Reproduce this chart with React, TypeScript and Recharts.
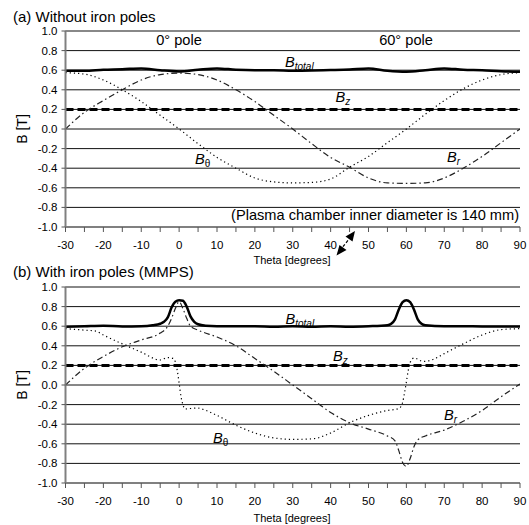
import React from 'react';
import { LineChart, Line, XAxis, YAxis, CartesianGrid, ReferenceLine } from 'recharts';

const FONT = '"Liberation Sans", Arial, sans-serif';

// Axis ticks
const thetaTicks = [-30, -25, -20, -15, -10, -5, 0, 5, 10, 15, 20, 25, 30, 35, 40, 45, 50, 55, 60, 65, 70, 75, 80, 85, 90];
const bTicks = [-1, -0.8, -0.6, -0.4, -0.2, 0, 0.2, 0.4, 0.6, 0.8, 1];

// ---------- Panel (a): without iron poles ----------
const thetaA = [-30, -25, -20, -15, -10, -5, 0, 5, 10, 15, 20, 25, 30, 35, 40, 45, 50, 55, 60, 65, 70, 75, 80, 85, 90];
const bTotalA = [0.595, 0.595, 0.605, 0.61, 0.618, 0.6, 0.588, 0.605, 0.618, 0.605, 0.6, 0.6, 0.595, 0.597, 0.602, 0.608, 0.618, 0.595, 0.585, 0.6, 0.618, 0.605, 0.6, 0.59, 0.585];
const bThetaA = [0.575, 0.56, 0.5, 0.4, 0.28, 0.14, 0.0, -0.15, -0.29, -0.4, -0.5, -0.54, -0.55, -0.545, -0.51, -0.39, -0.28, -0.14, 0.0, 0.15, 0.29, 0.41, 0.5, 0.555, 0.575];
const bRA = [0.0, 0.17, 0.29, 0.4, 0.5, 0.555, 0.57, 0.555, 0.5, 0.4, 0.28, 0.14, 0.0, -0.15, -0.29, -0.39, -0.5, -0.55, -0.555, -0.55, -0.5, -0.4, -0.28, -0.14, 0.0];
const thetaZ = [-30, 90];
const bZA = [0.2, 0.2];

// ---------- Panel (b): with iron poles (MMPS) ----------
const thetaTotalB = [-30, -25, -20, -15, -10, -7, -5, -4, -3, -2, -1, 0, 1, 2, 3, 4, 5, 7, 10, 15, 20, 25, 30, 35, 40, 45, 50, 55, 56, 57, 58, 59, 60, 61, 62, 63, 64, 65, 70, 75, 80, 85, 90];
const bTotalB = [0.595, 0.6, 0.605, 0.597, 0.6, 0.61, 0.625, 0.645, 0.69, 0.79, 0.85, 0.865, 0.86, 0.8, 0.7, 0.645, 0.62, 0.605, 0.6, 0.6, 0.6, 0.595, 0.6, 0.595, 0.6, 0.595, 0.6, 0.61, 0.625, 0.67, 0.77, 0.845, 0.865, 0.845, 0.77, 0.67, 0.625, 0.61, 0.6, 0.6, 0.597, 0.597, 0.597];
const thetaRB = [-30, -25, -20, -15, -10, -5, -3, -2, -1, 0, 1, 2, 3, 5, 10, 15, 20, 25, 30, 35, 40, 45, 50, 55, 57, 58, 59, 60, 61, 62, 63, 65, 70, 75, 80, 85, 90];
const bRB = [0.0, 0.17, 0.29, 0.39, 0.46, 0.53, 0.6, 0.68, 0.78, 0.85, 0.78, 0.68, 0.6, 0.56, 0.49, 0.4, 0.27, 0.14, 0.0, -0.14, -0.28, -0.385, -0.45, -0.52, -0.57, -0.67, -0.79, -0.83, -0.75, -0.63, -0.56, -0.52, -0.46, -0.37, -0.26, -0.12, 0.01];
const thetaThB = [-30, -25, -22, -20, -15, -10, -5, -3, -1.5, -0.5, 0, 0.5, 1, 1.5, 3, 5, 6, 10, 15, 20, 25, 30, 35, 40, 45, 50, 55, 58, 59, 59.5, 60, 60.5, 61, 62, 64.5, 67, 70, 75, 80, 85, 90];
const bThB = [0.575, 0.56, 0.55, 0.51, 0.42, 0.335, 0.255, 0.28, 0.27, 0.15, 0.02, -0.12, -0.2, -0.245, -0.24, -0.235, -0.245, -0.31, -0.41, -0.49, -0.54, -0.555, -0.55, -0.49, -0.385, -0.31, -0.26, -0.24, -0.18, -0.08, 0.03, 0.15, 0.23, 0.275, 0.24, 0.26, 0.32, 0.42, 0.51, 0.565, 0.575];
const bZB = [0.2, 0.2];

const zip = (xs: number[], ys: number[]) => xs.map((x, i) => ({ theta: x, b: ys[i] }));

type Series = { total: any[]; theta: any[]; r: any[]; z: any[] };

const seriesA: Series = {
  total: zip(thetaA, bTotalA),
  theta: zip(thetaA, bThetaA),
  r: zip(thetaA, bRA),
  z: zip(thetaZ, bZA),
};
const seriesB: Series = {
  total: zip(thetaTotalB, bTotalB),
  theta: zip(thetaThB, bThB),
  r: zip(thetaRB, bRB),
  z: zip(thetaZ, bZB),
};

const tickStyle = { fill: '#000', fontSize: 11.5, fontFamily: FONT };

function Panel({ s }: { s: Series }) {
  return (
    <LineChart width={529} height={260} margin={{ top: 31, right: 9, bottom: 0, left: 0 }}>
      <CartesianGrid horizontal vertical={false} stroke="#111" strokeWidth={1} />
      <XAxis
        dataKey="theta"
        type="number"
        domain={[-30, 90]}
        ticks={thetaTicks}
        interval={0}
        allowDataOverflow
        tickFormatter={(v: number) => (v % 10 === 0 ? String(v) : '')}
        height={33}
        tickSize={5}
        tickMargin={8.5}
        axisLine={{ stroke: '#808080', strokeWidth: 2 }}
        tickLine={{ stroke: '#555', strokeWidth: 1 }}
        tick={tickStyle}
      />
      <YAxis
        type="number"
        domain={[-1, 1]}
        ticks={bTicks}
        interval={0}
        allowDataOverflow
        tickFormatter={(v: number) => v.toFixed(1)}
        width={65.5}
        tickSize={4}
        tickMargin={4}
        axisLine={{ stroke: '#808080', strokeWidth: 2 }}
        tickLine={{ stroke: '#555', strokeWidth: 1 }}
        tick={tickStyle}
      />
      <ReferenceLine y={1} stroke="#888" strokeWidth={2} />
      <Line data={s.z} dataKey="b" type="linear" stroke="#000" strokeWidth={3} strokeDasharray="8 4" dot={false} isAnimationActive={false} />
      <Line data={s.theta} dataKey="b" type="monotone" stroke="#000" strokeWidth={1.2} strokeDasharray="1.2 3" dot={false} isAnimationActive={false} />
      <Line data={s.r} dataKey="b" type="monotone" stroke="#222" strokeWidth={1.2} strokeDasharray="6 3 1.5 3" dot={false} isAnimationActive={false} />
      <Line data={s.total} dataKey="b" type="monotone" stroke="#000" strokeWidth={2.5} dot={false} isAnimationActive={false} />
    </LineChart>
  );
}

function BLabel({ x, y, sub, italicSub = true }: { x: number; y: number; sub: string; italicSub?: boolean }) {
  return (
    <text x={x} y={y} fontFamily={FONT} fontSize={14.6} fill="#000">
      <tspan fontStyle="italic">B</tspan>
      <tspan fontSize={10} dy={3} fontStyle={italicSub ? 'italic' : 'normal'}>{sub}</tspan>
    </text>
  );
}

export default function App() {
  return (
    <div style={{ position: 'absolute', left: 0, top: 0, width: 529, height: 525, background: '#fff', overflow: 'hidden' }}>
      <div style={{ position: 'absolute', left: 0, top: 0 }}>
        <Panel s={seriesA} />
      </div>
      <div style={{ position: 'absolute', left: 0, top: 256 }}>
        <Panel s={seriesB} />
      </div>
      <svg width={529} height={525} style={{ position: 'absolute', left: 0, top: 0, pointerEvents: 'none' }}>
        <g fontFamily={FONT} fill="#000">
          <text x={13} y={21.5} fontSize={15}>(a) Without iron poles</text>
          <text x={13} y={277} fontSize={15}>(b) With iron poles (MMPS)</text>
          <text x={179} y={45} fontSize={14.6} textAnchor="middle">0° pole</text>
          <text x={406} y={45} fontSize={14.6} textAnchor="middle">60° pole</text>
          <text x={519} y={220} fontSize={14.6} textAnchor="end">(Plasma chamber inner diameter is 140 mm)</text>
          <text x={292} y={263.5} fontSize={11} textAnchor="middle">Theta [degrees]</text>
          <text x={292} y={522} fontSize={11} textAnchor="middle">Theta [degrees]</text>
          <text x={27} y={129} fontSize={14} textAnchor="middle" transform="rotate(-90 27 129)">B [T]</text>
          <text x={27} y={385} fontSize={14} textAnchor="middle" transform="rotate(-90 27 385)">B [T]</text>
        </g>
        <BLabel x={285} y={66.5} sub="total" />
        <BLabel x={335.5} y={101.5} sub="z" />
        <BLabel x={195} y={164} sub="θ" italicSub={false} />
        <BLabel x={447} y={161.5} sub="r" />
        <BLabel x={285.5} y={323.5} sub="total" />
        <BLabel x={333} y={361} sub="z" />
        <BLabel x={213} y={443} sub="θ" italicSub={false} />
        <BLabel x={444} y={420} sub="r" />
        {/* double-headed arrow between panels */}
        <line x1={351} y1={236.5} x2={340} y2={250.5} stroke="#000" strokeWidth={1.2} strokeDasharray="3 2" />
        <polygon points="355,231 345.5,236.5 352.5,241.5" fill="#000" />
        <polygon points="336.5,255.5 339.5,245 346.5,250" fill="#000" />
      </svg>
    </div>
  );
}
